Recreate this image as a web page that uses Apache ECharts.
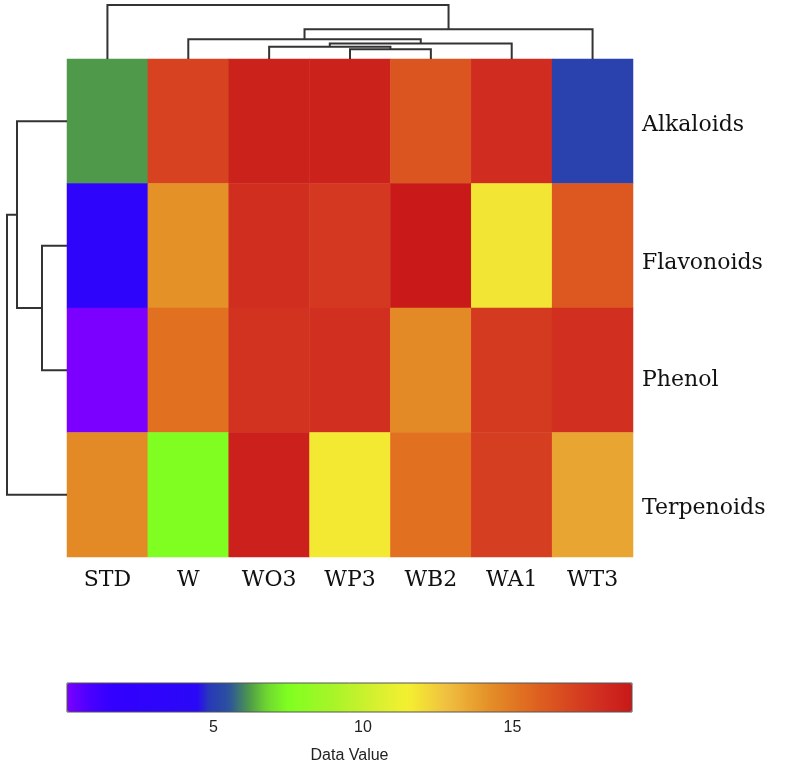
<!DOCTYPE html>
<html><head><meta charset="utf-8">
<script src="https://cdn.jsdelivr.net/npm/echarts@6/dist/echarts.min.js"></script>
<style>html,body{margin:0;padding:0;background:#fff}#c{width:787px;height:776px}</style>
</head><body><div id="c"></div><script>
// ---- data ----
const samples = ['STD','W','WO3','WP3','WB2','WA1','WT3'];
const compounds = ['Alkaloids','Flavonoids','Phenol','Terpenoids'];
const alkaloids  = [6.2, 17.0, 18.5, 18.5, 16.3, 18.0, 5.1];
const flavonoids = [3.0, 14.2, 17.9, 17.5, 18.9, 11.8, 16.2];
const phenol     = [0.1, 15.3, 17.7, 17.8, 14.4, 17.4, 17.8];
const terpenoids = [14.4, 7.5, 18.6, 11.7, 15.3, 17.2, 13.6];
// hierarchical clustering merges: [left, right, height]; numbers refer to earlier merges (1-based)
const colTree = [['WP3','WB2',9.7],['WO3',1,12.3],[2,'WA1',15.5],['W',3,19.7],[4,'WT3',29.7],['STD',5,54]];
const rowTree = [['Flavonoids','Phenol',25],['Alkaloids',1,50],[2,'Terpenoids',60]];
const colorTicks = [5, 10, 15];
const valueMin = 0.1, valueMax = 19;

// ---- styles ----
const rowLabelShift = [4, 18, 10, 14];
const barStops = [
  [0.1,'#7c00ff'],[0.8,'#4c00ff'],[1.6,'#3200ff'],[4.5,'#2a08f6'],[4.8,'#2838b8'],
  [5.5,'#2a50a0'],[6.2,'#4e9a48'],[6.8,'#70d830'],[7.5,'#80ff20'],[9.0,'#a8f428'],
  [10.5,'#d8f030'],[11.5,'#f4f030'],[12.8,'#f0c040'],[14.2,'#e49028'],[15.5,'#e06a20'],
  [16.8,'#d84820'],[18.0,'#d02c20'],[19,'#c81818']
];
function hex(c){return [1,3,5].map(i=>parseInt(c.substr(i,2),16));}
function interpColor(v){
  for(let i=0;i<barStops.length-1;i++){
    const [v0,c0]=barStops[i],[v1,c1]=barStops[i+1];
    if(v<=v1||i===barStops.length-2){
      const t=Math.max(0,Math.min(1,(v-v0)/(v1-v0)));
      const a=hex(c0),b=hex(c1);
      return 'rgb('+a.map((x,k)=>Math.round(x+(b[k]-x)*t)).join(',')+')';
    }
  }
}
const N=160, palette=[];
for(let i=0;i<N;i++){palette.push(interpColor(valueMin+(valueMax-valueMin)*i/(N-1)));}

// ---- build ----
const rows=[alkaloids,flavonoids,phenol,terpenoids];
const cells=[];
rows.forEach((r,y)=>r.forEach((v,x)=>cells.push([x,y,v])));

function dendro(tree, leaves, swap){
  const nodes=[]; const lines=[];
  const get=ref=>typeof ref==='number'?nodes[ref-1]:{pos:leaves.indexOf(ref),h:0};
  tree.forEach(([a,b,h])=>{
    const A=get(a),B=get(b);
    let pts=[[A.pos,A.h],[A.pos,h],[B.pos,h],[B.pos,B.h]];
    if(swap) pts=pts.map(p=>[p[1],p[0]]);
    lines.push({coords:pts});
    nodes.push({pos:(A.pos+B.pos)/2,h:h});
  });
  return lines;
}

const serif='DejaVu Serif';
const chart=echarts.init(document.getElementById('c'));
chart.setOption({
  animation:false,
  backgroundColor:'#ffffff',
  grid:[
    {left:67,top:59,width:566,height:498},
    {left:67,top:0,width:566,height:59},
    {left:0,top:59,width:67,height:498},
    {left:67,top:683,width:565,height:29,show:true,borderColor:'#555',borderWidth:1,backgroundColor:'transparent',z:10}
  ],
  xAxis:[
    {gridIndex:0,type:'category',data:samples,axisLine:{show:false},axisTick:{show:false},
     axisLabel:{fontFamily:serif,fontSize:22,color:'#111',margin:12}},
    {gridIndex:1,type:'value',min:-0.5,max:6.5,show:false},
    {gridIndex:2,type:'value',min:0,max:67,inverse:true,show:false},
    {gridIndex:3,type:'value',min:valueMin,max:valueMax,axisLine:{show:false},axisTick:{show:false},splitLine:{show:false},
     axisLabel:{customValues:colorTicks,fontFamily:'Liberation Sans',fontSize:16,color:'#222',margin:8},
     name:'Data Value',nameLocation:'middle',nameGap:36,nameTextStyle:{fontFamily:'Liberation Sans',fontSize:16,color:'#222'}}
  ],
  yAxis:[
    {gridIndex:0,type:'category',data:compounds,inverse:true,position:'right',axisLine:{show:false},axisTick:{show:false},
     axisLabel:{margin:9,formatter:(v,i)=>'{r'+i+'|'+v+'}',
       rich:Object.fromEntries(rowLabelShift.map((s,i)=>['r'+i,{fontFamily:serif,fontSize:22,color:'#111',padding:[2*s,0,0,0]}]))}},
    {gridIndex:1,type:'value',min:0,max:59,show:false},
    {gridIndex:2,type:'value',min:-0.5,max:3.5,inverse:true,show:false},
    {gridIndex:3,type:'value',min:0,max:1,show:false}
  ],
  visualMap:{type:'continuous',min:valueMin,max:valueMax,orient:'horizontal',left:67,top:683,
    itemWidth:29,itemHeight:565,padding:0,calculable:false,text:null,hoverLink:false,
    seriesIndex:0,dimension:2,inRange:{color:palette}},
  series:[
    {type:'heatmap',xAxisIndex:0,yAxisIndex:0,data:cells,itemStyle:{borderWidth:0},emphasis:{disabled:true}},
    {type:'lines',coordinateSystem:'cartesian2d',xAxisIndex:1,yAxisIndex:1,polyline:true,
     data:dendro(colTree,samples,false),lineStyle:{color:'#333',width:2,opacity:1}},
    {type:'lines',coordinateSystem:'cartesian2d',xAxisIndex:2,yAxisIndex:2,polyline:true,
     data:dendro(rowTree,compounds,true),lineStyle:{color:'#333',width:2,opacity:1}}
  ]
});
</script></body></html>
